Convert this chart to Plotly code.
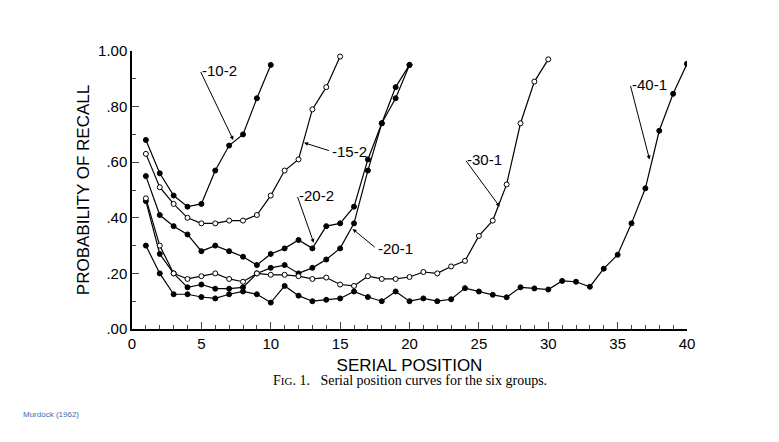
import plotly.graph_objects as go

# serial position curves
pos_10 = list(range(1, 11))
pos_15 = list(range(1, 16))
pos_20 = list(range(1, 21))
pos_30 = list(range(1, 31))
pos_40 = list(range(1, 41))

p_10_2 = [.68, .56, .48, .44, .45, .57, .66, .70, .83, .95]
p_15_2 = [.63, .51, .45, .40, .38, .38, .39, .39, .41, .48, .57, .61, .79, .87, .98]
p_20_2 = [.55, .41, .37, .34, .28, .30, .28, .26, .23, .27, .29, .32, .29, .37, .38,
          .44, .61, .74, .87, .95]
p_20_1 = [.46, .27, .20, .15, .16, .145, .145, .15, .20, .22, .23, .20, .22, .25, .29,
          .38, .57, .74, .83, .95]
p_30_1 = [.47, .30, .20, .18, .19, .20, .18, .17, .20, .195, .195, .19, .18, .185, .16,
          .155, .19, .18, .18, .187, .205, .20, .225, .245, .335, .39, .52, .74, .89, .97]
p_40_1 = [.30, .20, .125, .125, .115, .11, .125, .135, .125, .095, .155, .12, .10, .105,
          .11, .135, .115, .10, .135, .10, .11, .10, .107, .147, .135, .123, .114, .15,
          .146, .142, .173, .17, .152, .217, .267, .38, .506, .713, .846, .954]

series = [
    ("10-2", pos_10, p_10_2, True),
    ("15-2", pos_15, p_15_2, False),
    ("20-2", pos_20, p_20_2, True),
    ("20-1", pos_20, p_20_1, True),
    ("30-1", pos_30, p_30_1, False),
    ("40-1", pos_40, p_40_1, True),
]

# label position, arrow tip
labels = {
    "10-2": ((4.9, .93), (7.3, .68)),
    "15-2": ((14.3, .64), (12.4, .67)),
    "20-2": ((11.9, .48), (13.1, .31)),
    "20-1": ((17.6, .29), (15.9, .36)),
    "30-1": ((24.0, .61), (26.5, .44)),
    "40-1": ((35.9, .88), (37.3, .61)),
}

fig = go.Figure()
for name, x, y, filled in series:
    fig.add_trace(go.Scatter(
        x=x, y=y, mode="lines+markers", name=name, showlegend=False,
        line=dict(color="black", width=1.2),
        marker=dict(size=5, color="black" if filled else "white",
                    line=dict(color="black", width=1)),
    ))

for name, ((lx, ly), (tx, ty)) in labels.items():
    fig.add_annotation(
        x=tx, y=ty, ax=lx, ay=ly, axref="x", ayref="y", xref="x", yref="y",
        text="", showarrow=True, arrowhead=2, arrowsize=0.8, arrowwidth=1,
        arrowcolor="black",
    )
    fig.add_annotation(
        x=lx, y=ly, text="-" + name, showarrow=False, xanchor="left",
        font=dict(family="Liberation Sans", size=15, color="black"),
    )

fig.add_annotation(
    xref="paper", yref="paper", x=0.5, y=-0.22, showarrow=False,
    text="F<span style='font-size:11px'>IG</span>. 1.   Serial position curves for the six groups.",
    font=dict(family="Liberation Serif", size=14, color="black"),
)
fig.add_annotation(
    xref="paper", yref="paper", x=-0.2, y=-0.33, xanchor="left", showarrow=False,
    text="Murdock (1962)", font=dict(family="Liberation Sans", size=8, color="#2e6fb5"),
)

fig.update_layout(
    width=779, height=442, paper_bgcolor="white", plot_bgcolor="white",
    margin=dict(l=124, r=100, t=43, b=121),
    font=dict(family="Liberation Sans", size=15, color="black"),
)
fig.update_xaxes(
    range=[0, 40], tickvals=list(range(0, 41, 5)), ticks="inside", ticklen=7,
    minor=dict(dtick=1, ticks="inside", ticklen=4), showgrid=False, zeroline=False,
    showline=True, linecolor="black", linewidth=1.5,
    title=dict(text="SERIAL POSITION", font=dict(size=17), standoff=8),
)
fig.update_yaxes(
    range=[0, 1.0], tickvals=[0, .2, .4, .6, .8, 1.0],
    ticktext=[".00", ".20", ".40", ".60", ".80", "1.00"], ticks="inside", ticklen=7,
    minor=dict(dtick=0.1, ticks="inside", ticklen=4), showgrid=False, zeroline=False,
    showline=True, linecolor="black", linewidth=1.5,
    title=dict(text="PROBABILITY OF RECALL", font=dict(size=17), standoff=4),
)

fig.write_html("out.html")
